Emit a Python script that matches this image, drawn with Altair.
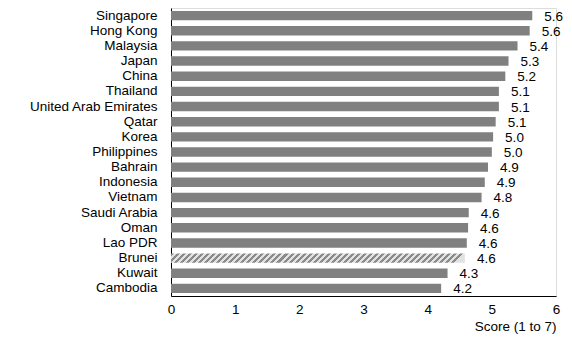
import altair as alt
import pandas as pd

countries = ["Singapore", "Hong Kong", "Malaysia", "Japan", "China", "Thailand",
             "United Arab Emirates", "Qatar", "Korea", "Philippines", "Bahrain",
             "Indonesia", "Vietnam", "Saudi Arabia", "Oman", "Lao PDR", "Brunei",
             "Kuwait", "Cambodia"]
scores = [5.63, 5.59, 5.40, 5.26, 5.21, 5.11, 5.11, 5.06, 5.02, 5.00, 4.94,
          4.89, 4.84, 4.64, 4.63, 4.61, 4.58, 4.31, 4.21]
highlight = "Brunei"
x_ticks = [0, 1, 2, 3, 4, 5, 6]

df = pd.DataFrame({"country": countries, "score": scores})

FONT = "Liberation Sans"
FS = 13.5
W, H = 385, 288

# diagonal hatch via hard-stop linear gradient
period = 0.0205
stops = []
k = 0
while k * period < 1:
    a = k * period
    b = min(a + period / 2, 1)
    c = min(a + period, 1)
    stops += [{"offset": a, "color": "#8a8a8a"}, {"offset": b, "color": "#8a8a8a"},
              {"offset": b, "color": "#e2e2e2"}, {"offset": c, "color": "#e2e2e2"}]
    k += 1
hatch = {"gradient": "linear", "x1": 0, "y1": 0, "x2": 1, "y2": 0.032, "stops": stops}

y_enc = alt.Y("country:N", sort=countries, title=None,
              scale=alt.Scale(paddingInner=0.38, paddingOuter=0.19),
              axis=alt.Axis(ticks=False, labelPadding=14, domainColor="black",
                            labelFont=FONT, labelFontSize=FS, labelColor="black",
                            labelLimit=300))
x_enc = alt.X("score:Q", title="Score (1 to 7)",
              scale=alt.Scale(domain=[0, 6], nice=False),
              axis=alt.Axis(values=x_ticks, ticks=False, grid=False, domainColor="black",
                            labelFont=FONT, labelFontSize=FS, labelColor="black",
                            labelPadding=6, labelFlush=False,
                            titleFont=FONT, titleFontSize=FS, titleFontWeight="normal",
                            titleColor="black", titleAnchor="end", titleAlign="right",
                            titleX=W, titleY=34, titleBaseline="alphabetic"))

base = alt.Chart(df)
bars = base.transform_filter(alt.datum.country != highlight).mark_bar(color="#808080").encode(x=x_enc, y=y_enc)
hbar = base.transform_filter(alt.datum.country == highlight).mark_bar(color=hatch).encode(x=x_enc, y=y_enc)
labels = base.mark_text(align="left", baseline="middle", dx=12, dy=1, font=FONT,
                        fontSize=FS, color="black").encode(
    x=x_enc, y=y_enc, text=alt.Text("score:Q", format=".1f"))

chart = alt.layer(bars, hbar, labels).properties(
    width=W, height=H,
    autosize=alt.AutoSizeParams(type="none"),
    padding={"left": 163, "top": 0, "right": 8, "bottom": 38},
).configure_view(stroke=None).configure(background="white")

chart.save("out.html", embed_options={"renderer": "svg", "actions": False})
